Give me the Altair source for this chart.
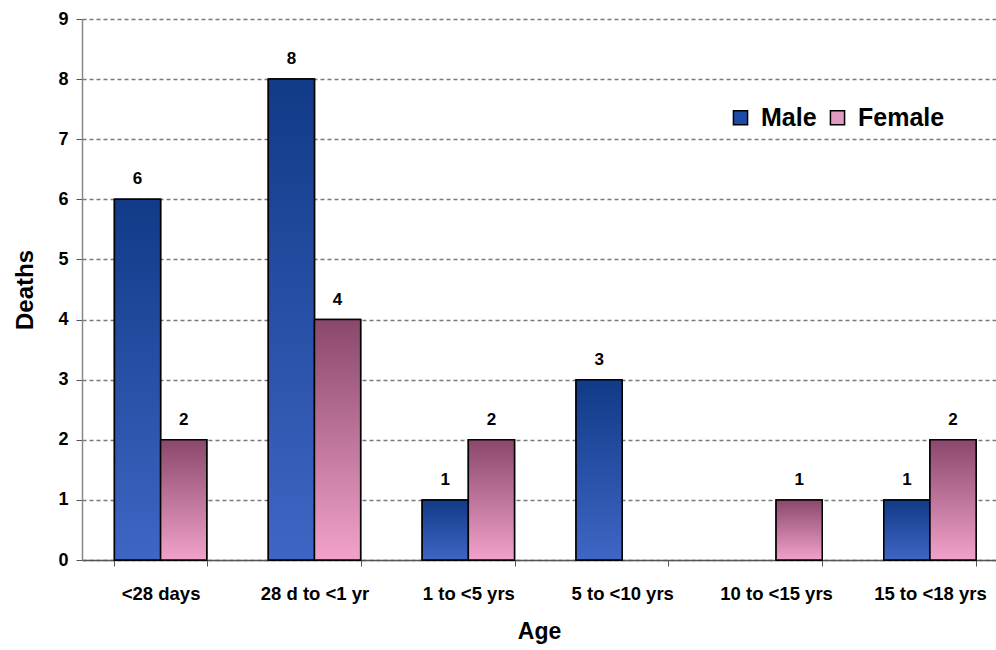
import altair as alt
import pandas as pd

# Deaths by age group and sex
age_groups = ["<28 days", "28 d to <1 yr", "1 to <5 yrs", "5 to <10 yrs", "10 to <15 yrs", "15 to <18 yrs"]
male_deaths = [6, 8, 1, 3, 0, 1]
female_deaths = [2, 4, 2, 0, 1, 2]
sexes = ["Male", "Female"]

rows = []
for i, age in enumerate(age_groups):
    rows.append({"age": age, "sex": "Male", "deaths": male_deaths[i]})
    rows.append({"age": age, "sex": "Female", "deaths": female_deaths[i]})
df = pd.DataFrame(rows)

FONT = "Liberation Sans"

male_grad = {
    "gradient": "linear", "x1": 0, "y1": 0, "x2": 0, "y2": 1,
    "stops": [{"offset": 0, "color": "#113a88"}, {"offset": 1, "color": "#3f66c4"}],
}
female_grad = {
    "gradient": "linear", "x1": 0, "y1": 0, "x2": 0, "y2": 1,
    "stops": [{"offset": 0, "color": "#8a486c"}, {"offset": 1, "color": "#f2a2ca"}],
}

x_enc = alt.X(
    "age:N",
    sort=age_groups,
    scale=alt.Scale(paddingInner=0.4, paddingOuter=0.17, align=0.62),
    axis=alt.Axis(
        title="Age",
        labelFont=FONT, labelFontSize=18.5, labelFontWeight="bold", labelColor="black",
        labelAngle=0, labelPadding=18,
        titleFont=FONT, titleFontSize=23, titleFontWeight="bold", titleColor="black",
        titlePadding=18,
        tickBand="extent", tickSize=6, tickColor="#555",
        domainColor="#555", domainWidth=1.5,
        grid=False,
    ),
)
xo_enc = alt.XOffset("sex:N", sort=sexes, scale=alt.Scale(domain=sexes))
y_enc = alt.Y(
    "deaths:Q",
    scale=alt.Scale(domain=[0, 9], nice=False),
    axis=alt.Axis(
        title="Deaths",
        values=list(range(10)),
        labelFont=FONT, labelFontSize=18, labelFontWeight="bold", labelColor="black",
        labelPadding=8,
        titleFont=FONT, titleFontSize=24, titleFontWeight="bold", titleColor="black",
        titlePadding=20,
        tickSize=6, tickColor="#555",
        domainColor="#888", domainWidth=1.5,
        grid=True, gridColor="#7a7a7a", gridDash=[4, 3], gridWidth=1.3,
    ),
)

base = alt.Chart(df).transform_filter("datum.deaths > 0")

# solid layer supplies the legend; the gradient layer paints over it
legend_bars = base.mark_bar(stroke="black", strokeWidth=1.5).encode(
    x=x_enc,
    xOffset=xo_enc,
    y=y_enc,
    color=alt.Color(
        "sex:N",
        scale=alt.Scale(domain=sexes, range=["#1f4aa6", "#e39ac0"]),
        legend=alt.Legend(
            title=None, orient="none", legendX=646, legendY=86, direction="horizontal",
            symbolType="square", symbolSize=200, symbolStrokeColor="black", symbolStrokeWidth=1.5,
            symbolOpacity=1,
            labelFont=FONT, labelFontSize=25, labelFontWeight="bold", labelColor="black",
            labelOffset=8, columnPadding=8,
        ),
    ),
)

grad_bars = base.mark_bar(stroke="black", strokeWidth=1.5).encode(
    x=x_enc,
    xOffset=xo_enc,
    y=y_enc,
    fill=alt.condition("datum.sex === 'Male'", alt.value(male_grad), alt.value(female_grad)),
)

labels = base.mark_text(
    font=FONT, fontSize=17, fontWeight="bold", color="black", baseline="bottom", dy=-11
).encode(
    x=x_enc,
    xOffset=xo_enc,
    y=y_enc,
    text=alt.Text("deaths:Q"),
)

chart = (
    alt.layer(legend_bars, grad_bars, labels)
    .properties(
        width=914,
        height=541,
        autosize=alt.AutoSizeParams(type="none"),
        padding={"left": 82, "top": 19, "right": 0, "bottom": 90},
        background="white",
    )
    .configure_view(stroke=None)
)

chart.save("out.html", embed_options={"renderer": "svg", "actions": False})
